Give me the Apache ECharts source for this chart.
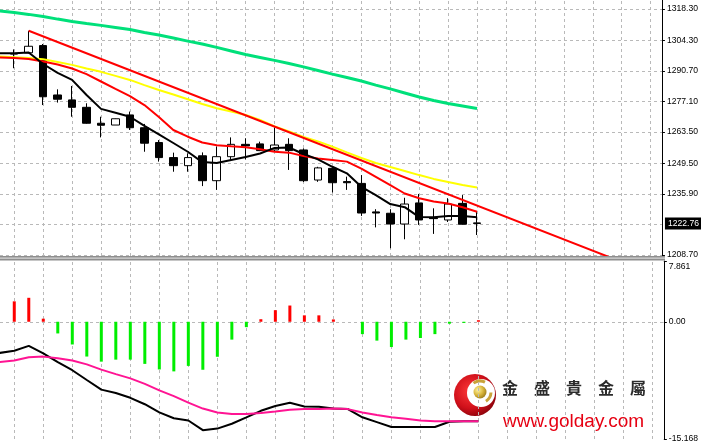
<!DOCTYPE html>
<html><head><meta charset="utf-8">
<script src="https://cdn.jsdelivr.net/npm/echarts@6/dist/echarts.min.js"></script>
<style>html,body{margin:0;padding:0;background:#fff;overflow:hidden}#c{width:701px;height:443px}</style>
</head><body><div id="c"></div>
<script>
// ---- candles (bar index 0..32) ----
const opens  = [1298.2,1298.8,1302.0,1280.0,1277.8,1274.5,1267.4,1266.6,1271.1,1265.4,1258.8,1252.1,1248.5,1252.9,1241.8,1252.5,1258.0,1258.2,1255.5,1258.0,1255.5,1242.1,1247.3,1241.4,1240.6,1227.9,1227.3,1222.5,1231.9,1225.2,1224.3,1231.7,1223.0];
const closes = [1298.5,1301.7,1279.2,1278.1,1274.5,1267.4,1266.5,1269.4,1265.4,1258.5,1252.1,1248.5,1252.1,1241.8,1252.5,1258.0,1257.3,1255.2,1257.7,1255.2,1241.8,1247.5,1240.9,1240.9,1227.4,1227.4,1222.5,1231.4,1224.3,1224.9,1231.4,1222.4,1222.76];
const lows   = [1291.9,1298.5,1275.5,1276.6,1270.3,1267.2,1261.1,1266.6,1264.4,1254.7,1250.3,1245.8,1245.8,1239.4,1237.7,1251.0,1251.3,1255.0,1254.7,1246.6,1241.2,1241.3,1236.5,1237.7,1226.1,1221.0,1211.7,1215.7,1222.1,1218.1,1223.4,1222.3,1217.6];
const highs  = [1300.3,1308.6,1302.7,1282.5,1284.0,1276.3,1270.3,1269.5,1272.6,1267.1,1259.9,1254.3,1254.0,1254.4,1257.0,1261.1,1260.7,1259.2,1265.6,1260.7,1256.2,1248.0,1247.8,1243.6,1244.3,1229.1,1229.1,1234.2,1235.9,1229.5,1234.0,1235.4,1228.0];
// ---- moving averages (bar index -1..32) ----
const maBlack  = [1298.6,1298.6,1298.9,1293.8,1289.8,1286.7,1280.0,1273.8,1272.1,1270.3,1266.2,1262.4,1258.6,1254.7,1250.1,1249.7,1251.0,1252.4,1253.9,1256.4,1256.6,1253.7,1251.3,1248.0,1245.1,1239.1,1235.4,1231.4,1230.0,1225.6,1225.5,1226.1,1226.1,1225.5];
const maRed    = [1296.7,1296.5,1296.0,1294.9,1293.6,1291.8,1289.3,1286.0,1282.7,1279.5,1275.5,1270.2,1264.4,1261.4,1258.8,1257.6,1257.1,1256.7,1255.8,1254.7,1254.3,1252.8,1251.7,1251.0,1250.3,1247.2,1243.5,1239.8,1236.1,1234.0,1232.5,1231.6,1230.0,1228.0];
const maYellow = [1297.1,1296.8,1296.5,1295.9,1294.7,1293.4,1291.8,1290.3,1288.5,1286.7,1284.4,1282.2,1280.2,1278.1,1276.0,1274.1,1272.6,1271.1,1268.9,1266.0,1263.7,1261.3,1259.3,1257.0,1254.4,1251.9,1249.7,1247.9,1246.1,1244.3,1242.6,1241.2,1239.9,1238.8];
const maGreen  = [1317.4,1316.7,1315.9,1315.0,1313.8,1312.7,1311.8,1311.0,1310.1,1309.2,1307.8,1306.7,1305.4,1304.0,1302.7,1301.2,1299.6,1298.0,1296.7,1295.4,1294.0,1292.5,1290.9,1289.3,1287.8,1286.2,1284.4,1282.7,1280.9,1279.1,1277.5,1276.2,1275.1,1274.0];
// ---- trend line (bar index, price) ----
const trendBars   = [1, 42];
const trendPrices = [1308.6, 1205.6];
// ---- MACD panel ----
const macdHist   = [2.64,3.1,0.4,-1.51,-2.94,-4.5,-5.16,-4.9,-4.9,-5.45,-6.17,-6.42,-5.71,-6.21,-4.53,-2.31,-0.7,0.33,1.5,2.1,0.83,0.83,0.3,0,-1.6,-2.44,-3.27,-2.31,-2.1,-1.6,-0.25,-0.15,0.2];
const macdMain   = [-4.03,-3.75,-3.12,-4.09,-5.22,-6.27,-7.53,-8.78,-9.21,-9.84,-10.67,-11.73,-12.48,-12.77,-14.03,-13.82,-13.19,-12.36,-11.52,-10.89,-10.47,-10.97,-11.01,-11.23,-11.30,-12.36,-12.99,-13.62,-13.62,-13.62,-13.62,-12.94,-12.86,-12.86];
const macdSignal = [-5.22,-5.01,-4.59,-4.51,-4.72,-5.01,-5.51,-6.19,-6.77,-7.32,-8.03,-8.87,-9.63,-10.47,-11.23,-11.73,-11.93,-11.93,-11.80,-11.60,-11.39,-11.30,-11.30,-11.23,-11.30,-11.73,-12.06,-12.36,-12.56,-12.77,-12.86,-12.86,-12.86,-12.86];
// ---- axes / ticks ----
const timeGridBars = [0,2,4,6,8,10,12,14,16,18,20,22,24,26,28,30,32,34,36,38,40,42,44];
const priceGrid   = [1318.30,1304.30,1290.70,1277.10,1263.50,1249.50,1235.90,1222.30,1208.70];
const priceTicks  = [1318.30,1304.30,1290.70,1277.10,1263.50,1249.50,1235.90,1208.70];
const priceLabels = ['1318.30','1304.30','1290.70','1277.10','1263.50','1249.50','1235.90','1208.70'];
const lastPrice = 1222.76, lastPriceLabel = '1222.76';
const macdTicks  = [7.861, 0, -15.168];
const macdLabels = ['7.861', '0.00', '-15.168'];
const priceMin = 1208.25, priceMax = 1322.31;
const macdMin = -15.168, macdMax = 7.861;
const logoName = '金　盛　貴　金　屬';
const logoUrl = 'www.golday.com';

// layout
const barPx = 14.53, firstBarX = 14.3, plotRight = 665;
const xMin = -firstBarX / barPx, xMax = (plotRight - firstBarX) / barPx;
const font = 'Liberation Sans';

const candleData = opens.map((o, i) => [i, o, closes[i], lows[i], highs[i]]);
const withIdx = (arr, start) => arr.map((v, i) => [i + start, v]);
const gridLine = { color: '#b9b9b9', type: [3, 3], width: 1 };

function xAx(gi) {
  return { type: 'value', gridIndex: gi, min: xMin, max: xMax,
    axisLine: { show: false }, axisTick: { show: false }, axisLabel: { show: false },
    splitLine: { show: false } };
}
function vGrid(xi, yi) {
  return { type: 'line', xAxisIndex: xi, yAxisIndex: yi, data: [], z: 0, silent: true,
    markLine: { z: 0, silent: true, symbol: 'none', label: { show: false }, lineStyle: gridLine,
      data: timeGridBars.map(b => ({ xAxis: b })) } };
}
const chart = echarts.init(document.getElementById('c'), null, { renderer: 'canvas' });
chart.setOption({
  animation: false,
  backgroundColor: '#fff',
  textStyle: { fontFamily: font },
  grid: [
    { left: 0, width: plotRight, top: 0, height: 256 },
    { left: 0, width: plotRight, top: 261, height: 183 }
  ],
  xAxis: [xAx(0), xAx(1)],
  yAxis: [
    { type: 'value', gridIndex: 0, position: 'right', min: priceMin, max: priceMax, scale: true,
      axisLine: { show: true, onZero: false, lineStyle: { color: '#000', width: 1 } },
      axisTick: { show: true, length: 3, customValues: priceTicks, lineStyle: { color: '#000' } },
      axisLabel: { customValues: priceTicks, margin: 5, fontSize: 8.6, color: '#000', fontFamily: font,
        formatter: v => { const i = priceTicks.findIndex(t => Math.abs(t - v) < 1e-6); return i >= 0 ? priceLabels[i] : ''; } },
      splitLine: { show: false } },
    { type: 'value', gridIndex: 1, position: 'right', min: macdMin, max: macdMax,
      axisLine: { show: true, onZero: false, lineStyle: { color: '#000', width: 1 } },
      axisTick: { show: true, length: 3, customValues: macdTicks, lineStyle: { color: '#000' } },
      axisLabel: { customValues: macdTicks, margin: 5, color: '#000', fontSize: 8.6, fontFamily: font,
        formatter: v => { const i = macdTicks.findIndex(t => Math.abs(t - v) < 1e-6);
          if (i === 0) return '{t|' + macdLabels[0] + '}';
          if (i === 2) return '{b|' + macdLabels[2] + '}';
          return i >= 0 ? '{m|' + macdLabels[i] + '}' : ''; },
        rich: { t: { fontSize: 8.6, fontFamily: font, color: '#000', padding: [11, 0, 0, 0] },
                m: { fontSize: 8.6, fontFamily: font, color: '#000' },
                b: { fontSize: 8.6, fontFamily: font, color: '#000', padding: [0, 0, 1, 0] } } },
      splitLine: { show: false } }
  ],
  series: [
    vGrid(0, 0),
    vGrid(1, 1),
    { type: 'line', name: 'grid', xAxisIndex: 0, yAxisIndex: 0, data: [], z: 0, silent: true,
      markLine: { z: 0, silent: true, symbol: 'none', label: { show: false }, lineStyle: gridLine,
        data: priceGrid.map(p => ({ yAxis: p })) } },
    { type: 'candlestick', name: 'price', xAxisIndex: 0, yAxisIndex: 0, data: candleData, barWidth: 8, z: 3,
      itemStyle: { color: '#fff', color0: '#000', borderColor: '#000', borderColor0: '#000', borderWidth: 1 },
      markLine: { z: 6, silent: true, symbol: 'none', lineStyle: { color: 'rgba(0,0,0,0)', width: 0 },
        label: { show: true, position: 'end', distance: 3, formatter: lastPriceLabel, backgroundColor: '#000',
          color: '#fff', fontSize: 8.6, fontFamily: font, padding: [2, 6, 1, 3] },
        data: [{ yAxis: lastPrice }] } },
    { type: 'line', name: 'MA green', data: withIdx(maGreen, -1), showSymbol: false, z: 4,
      lineStyle: { color: '#00e07a', width: 3 } },
    { type: 'line', name: 'MA yellow', data: withIdx(maYellow, -1), showSymbol: false, z: 4,
      lineStyle: { color: '#ffff00', width: 2 } },
    { type: 'line', name: 'MA red', data: withIdx(maRed, -1), showSymbol: false, z: 4,
      lineStyle: { color: '#ff0000', width: 2 } },
    { type: 'line', name: 'MA black', data: withIdx(maBlack, -1), showSymbol: false, z: 4,
      lineStyle: { color: '#000', width: 2 } },
    { type: 'line', name: 'trend', data: trendBars.map((b, i) => [b, trendPrices[i]]), showSymbol: false, z: 5,
      clip: true, lineStyle: { color: '#ff0000', width: 2 } },
    { type: 'bar', name: 'MACD hist', xAxisIndex: 1, yAxisIndex: 1, data: withIdx(macdHist, 0), barWidth: 3, z: 3,
      itemStyle: { color: p => p.value[1] >= 0 ? '#ff0000' : '#00ee00' },
      markLine: { z: 0, silent: true, symbol: 'none', label: { show: false }, lineStyle: gridLine,
        data: [{ yAxis: 0 }] } },
    { type: 'line', name: 'MACD', xAxisIndex: 1, yAxisIndex: 1, data: withIdx(macdMain, -1), showSymbol: false, z: 4,
      lineStyle: { color: '#000', width: 2 } },
    { type: 'line', name: 'Signal', xAxisIndex: 1, yAxisIndex: 1, data: withIdx(macdSignal, -1), showSymbol: false, z: 4,
      lineStyle: { color: '#ff1493', width: 2 } }
  ],
  graphic: [
    { type: 'rect', shape: { x: 0, y: 256, width: plotRight, height: 4.5 }, style: { fill: '#8e8e8e' }, z: 10 },
    { type: 'rect', shape: { x: 0, y: 257.6, width: plotRight, height: 1.2 }, style: { fill: '#d6d6d6' }, z: 11 },
    { type: 'group', z: 20, children: [
      { type: 'circle', shape: { cx: 475, cy: 395, r: 21 },
        style: { fill: new echarts.graphic.RadialGradient(0.4, 0.4, 0.7, [{ offset: 0, color: '#ff3a3a' }, { offset: 0.6, color: '#d0101a' }, { offset: 1, color: '#7a0008' }]) } },
      { type: 'circle', shape: { cx: 481, cy: 393, r: 14 }, style: { fill: '#fff' } },
      { type: 'arc', shape: { cx: 480, cy: 392, r: 11, startAngle: -2.2, endAngle: -1.1 }, style: { stroke: '#c9a33a', lineWidth: 3, fill: null } },
      { type: 'arc', shape: { cx: 480, cy: 392, r: 11, startAngle: 0.05, endAngle: 1.0 }, style: { stroke: '#c9a33a', lineWidth: 3, fill: null } },
      { type: 'circle', shape: { cx: 480, cy: 392, r: 6.5 },
        style: { fill: new echarts.graphic.RadialGradient(0.35, 0.35, 0.8, [{ offset: 0, color: '#fff3a0' }, { offset: 0.5, color: '#d8b53a' }, { offset: 1, color: '#8a6a10' }]) } },
      { type: 'text', x: 502, y: 387.5, style: { text: logoName, font: 'bold 16px "Noto Sans CJK TC"', fill: '#2b2b2b', verticalAlign: 'middle' } },
      { type: 'text', x: 503, y: 412.5, style: { text: logoUrl, font: '19px "Liberation Sans"', fill: '#e60012', verticalAlign: 'alphabetic' } }
    ] }
  ]
});
</script>
</body></html>
